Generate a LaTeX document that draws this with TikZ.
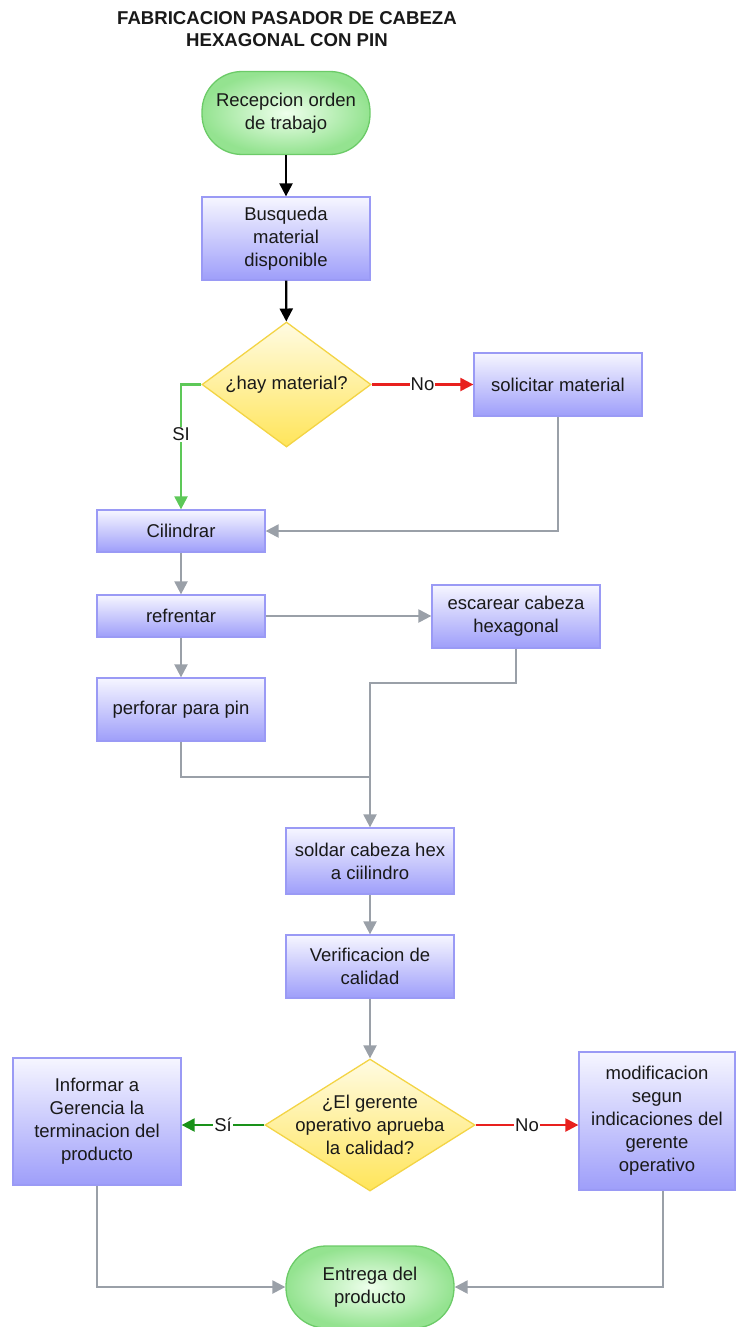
\documentclass[tikz,border=0pt]{standalone}
\usepackage{fontspec}
\setmainfont{Liberation Sans}
\usetikzlibrary{shapes.geometric,arrows.meta}
\definecolor{boxtop}{HTML}{F6F6FF}
\definecolor{boxbot}{HTML}{9E9EFA}
\definecolor{boxline}{HTML}{9A9AF5}
\definecolor{termin}{HTML}{EEFFEC}
\definecolor{termout}{HTML}{94E390}
\definecolor{termline}{HTML}{6CCB68}
\definecolor{diatop}{HTML}{FFFBE2}
\definecolor{diabot}{HTML}{FFE55A}
\definecolor{dialine}{HTML}{F3D445}
\definecolor{flowgray}{HTML}{9AA0A8}
\definecolor{flowred}{HTML}{E8201E}
\definecolor{flowgreen}{HTML}{5DC858}
\definecolor{flowdkgreen}{HTML}{1A921A}
\tikzset{
  txt/.style={font=\fontsize{18.5}{23}\selectfont, align=center, text=black!90},
  procbox/.style={txt, draw=boxline, line width=1.3pt, top color=boxtop, bottom color=boxbot, minimum width=168pt, inner sep=0pt},
  termbox/.style={txt, draw=termline, line width=1.3pt, inner color=termin, outer color=termout, rounded corners=40pt, minimum width=168pt, inner sep=0pt},
  decbox/.style={diamond, draw=dialine, line width=1.3pt, top color=diatop, bottom color=diabot, inner sep=0pt},
  conn/.style={line width=2.3pt, -{Triangle[width=13pt,length=13pt]}},
  plain/.style={line width=2.3pt},
  lbl/.style={txt, fill=white, inner sep=1pt}
}
\begin{document}
\begin{tikzpicture}[x=1pt,y=-1pt]
\useasboundingbox (0,0) rectangle (736,1327);
\node[font=\bfseries\fontsize{18.6}{22}\selectfont, align=center, text=black!90] (title) at (287,29) {FABRICACION PASADOR DE CABEZA\\HEXAGONAL CON PIN};
\node[termbox, minimum height=83pt] (start) at (286,113) {Recepcion orden\\de trabajo};
\node[procbox, minimum height=83pt] (busq) at (286,238.5) {Busqueda\\material\\disponible};
\node[decbox, minimum width=169pt, minimum height=125pt] (d1) at (286.5,384.5) {};
\node[txt] (d1t) at (d1) {¿hay material?};
\node[procbox, minimum height=63pt] (sol) at (558,384.5) {solicitar material};
\node[procbox, minimum height=42pt] (cil) at (181,531) {Cilindrar};
\node[procbox, minimum height=42pt] (ref) at (181,616) {refrentar};
\node[procbox, minimum height=63pt] (perf) at (181,709.5) {perforar para pin};
\node[procbox, minimum height=63pt] (esc) at (516,616.5) {escarear cabeza\\hexagonal};
\node[procbox, minimum height=66pt] (sold) at (370,861) {soldar cabeza hex\\a ciilindro};
\node[procbox, minimum height=63pt] (ver) at (370,966.5) {Verificacion de\\calidad};
\node[decbox, minimum width=210pt, minimum height=132pt] (d2) at (370,1125) {};
\node[txt] (d2t) at (d2) {¿El gerente\\operativo aprueba\\la calidad?};
\node[procbox, minimum height=127pt] (inf) at (97,1121.5) {Informar a\\Gerencia la\\terminacion del\\producto};
\node[procbox, minimum width=156pt, minimum height=138pt] (mod) at (657,1121) {modificacion\\segun\\indicaciones del\\gerente\\operativo};
\node[termbox, minimum height=82pt] (end) at (370,1287) {Entrega del\\producto};
\coordinate (j1) at (370,683);
\coordinate (j2) at (370,777);
% connectors
\draw[conn, black] (start) -- (busq);
\draw[conn, black] (busq) -- (d1);
\draw[conn, flowred] (d1.east) -- node[lbl, pos=0.5] (no1) {No} (sol.west);
\draw[conn, flowgreen] (d1.west) -| node[lbl, pos=0.70] (si1) {SI} (cil.north);
\draw[conn, flowgray] (sol.south) |- (cil.east);
\draw[conn, flowgray] (cil) -- (ref);
\draw[conn, flowgray] (ref) -- (perf);
\draw[conn, flowgray] (ref.east) -- (ref.east -| esc.west);
\draw[conn, flowgray] (esc.south) |- (j1) -- (sold.north);
\draw[plain, flowgray] (perf.south) |- (j2);
\draw[conn, flowgray] (sold) -- (ver);
\draw[conn, flowgray] (ver) -- (d2);
\draw[conn, flowdkgreen] (d2.west) -- node[lbl, pos=0.5] (si2) {Sí} (d2.west -| inf.east);
\draw[conn, flowred] (d2.east) -- node[lbl, pos=0.5] (no2) {No} (d2.east -| mod.west);
\draw[conn, flowgray] (inf.south) |- (end.west);
\draw[conn, flowgray] ([xshift=6pt]mod.south) |- (end.east);
\end{tikzpicture}
\end{document}
